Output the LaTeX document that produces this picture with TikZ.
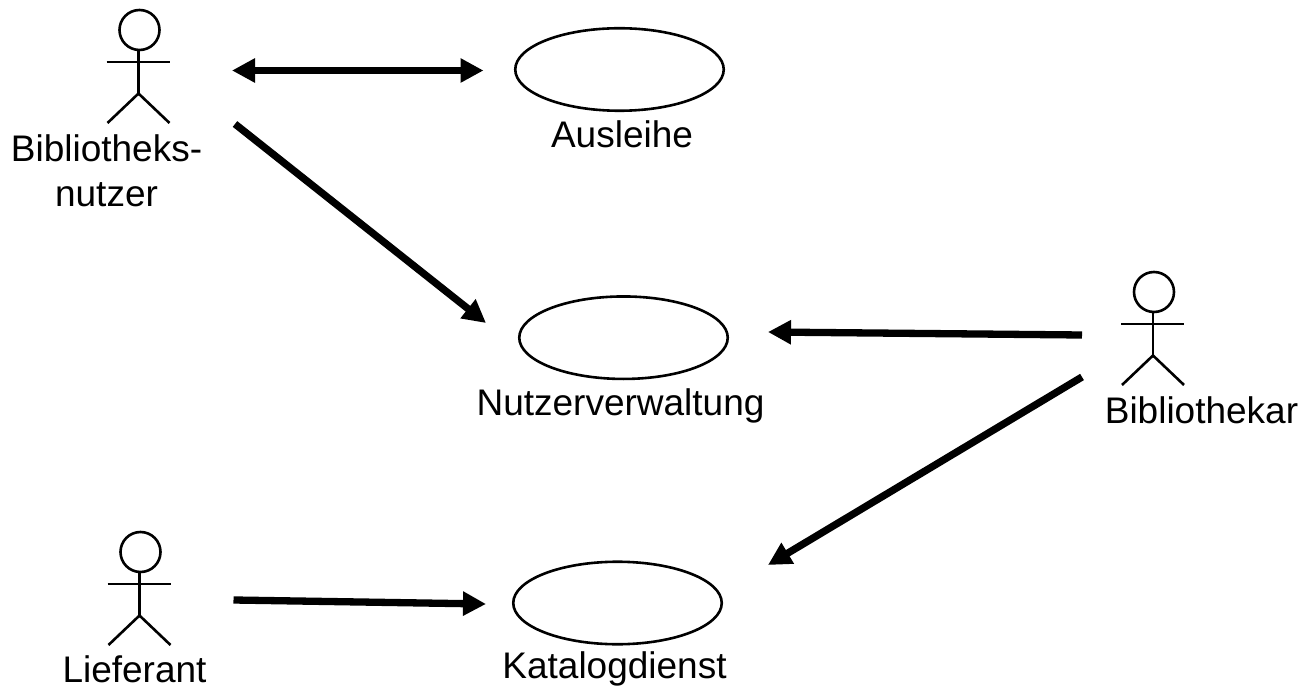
\documentclass[tikz,border=0pt]{standalone}
\usepackage{fontspec}
\setmainfont{Liberation Sans}
\usetikzlibrary{arrows.meta,shapes.geometric}
\tikzset{
 usecase/.style={draw,line width=2.6pt,ellipse,minimum width=208.5pt,minimum height=82.5pt,inner sep=0pt},
 lbl/.style={font=\fontsize{37}{45}\selectfont,align=center,inner sep=0pt,anchor=base},
 conn/.style={line width=7.3pt,-{Triangle[length=23pt,width=23pt]}},
 biconn/.style={line width=7.3pt,{Triangle[length=23pt,width=23pt]}-{Triangle[length=23pt,width=23pt]}},
 limb/.style={line width=2.6pt}
}
\newcommand{\actor}[2]{%
 \draw[limb] (#1+1,#2) circle[radius=20];
 \draw[limb] (#1,#2+20) -- (#1,#2+63.5);
 \draw[limb] (#1-32,#2+32) -- (#1+31,#2+32);
 \draw[limb] (#1-31,#2+93) -- (#1,#2+63.5) -- (#1+31,#2+93);
}
\begin{document}
\begin{tikzpicture}[x=1pt,y=-1pt]
\useasboundingbox (0,0) rectangle (1302,687);
\actor{138.5}{30}
\actor{1153}{292}
\actor{139.5}{552}
\node[usecase] (aus) at (619.5,69.5) {};
\node[usecase] (nut) at (623.5,337.7) {};
\node[usecase] (kat) at (617.5,603) {};
\node[lbl] (ausl) at (622,148) {Ausleihe};
\node[lbl] (nutl) at (620.5,415.5) {Nutzerverwaltung};
\node[lbl] (katl) at (614.5,678.5) {Katalogdienst};
\node[lbl] (bibl) at (106.5,161.5) {Bibliotheks-};
\node[lbl] (bibm) at (106.5,206.5) {nutzer};
\node[lbl] (bkl) at (1201.5,423) {Bibliothekar};
\node[lbl] (lil) at (134.5,682) {Lieferant};
\coordinate (a1) at (232,70.5);
\coordinate (a2) at (483.5,70.5);
\coordinate (b1) at (235,124);
\coordinate (b2) at (486,323);
\coordinate (c1) at (1082,335);
\coordinate (c2) at (768,332);
\coordinate (d1) at (1082,377);
\coordinate (d2) at (768,565);
\coordinate (e1) at (233.5,600);
\coordinate (e2) at (486,604);
\draw[biconn] (a1) -- (a2);
\draw[conn] (b1) -- (b2);
\draw[conn] (c1) -- (c2);
\draw[conn] (d1) -- (d2);
\draw[conn] (e1) -- (e2);
\end{tikzpicture}
\end{document}
